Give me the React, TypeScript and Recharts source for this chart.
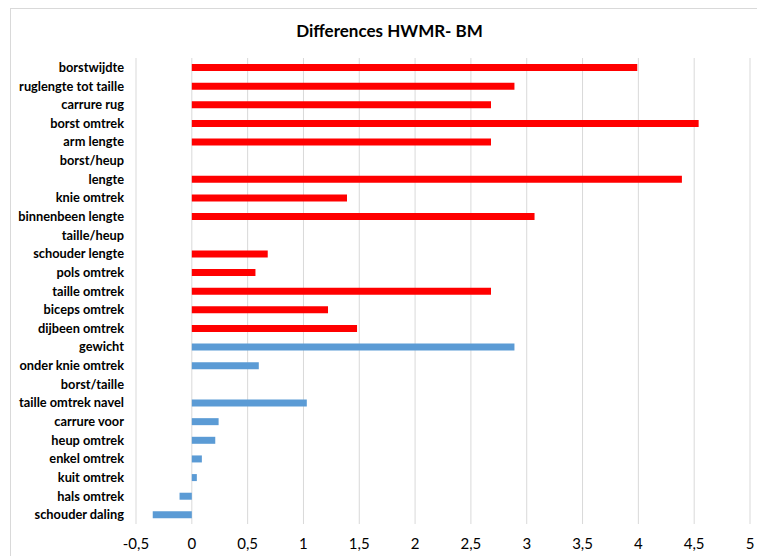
import { BarChart, Bar, XAxis, YAxis, CartesianGrid } from 'recharts';

const categories = [
  'borstwijdte',
  'ruglengte tot taille',
  'carrure rug',
  'borst omtrek',
  'arm lengte',
  'borst/heup',
  'lengte',
  'knie omtrek',
  'binnenbeen lengte',
  'taille/heup',
  'schouder lengte',
  'pols omtrek',
  'taille omtrek',
  'biceps omtrek',
  'dijbeen omtrek',
  'gewicht',
  'onder knie omtrek',
  'borst/taille',
  'taille omtrek navel',
  'carrure voor',
  'heup omtrek',
  'enkel omtrek',
  'kuit omtrek',
  'hals omtrek',
  'schouder daling',
];

// red group (top part of the chart)
const redValues = [
  3.99, 2.89, 2.68, 4.54, 2.68, null, 4.39, 1.39, 3.07, null, 0.68, 0.57, 2.68, 1.22, 1.48,
  null, null, null, null, null, null, null, null, null, null,
];

// blue group (bottom part)
const blueValues = [
  null, null, null, null, null, null, null, null, null, null, null, null, null, null, null,
  2.89, 0.6, null, 1.03, 0.24, 0.21, 0.09, 0.045, -0.11, -0.35,
];

const xTicks = [-0.5, 0, 0.5, 1, 1.5, 2, 2.5, 3, 3.5, 4, 4.5, 5];

const data = categories.map((name, i) => ({
  name,
  red: redValues[i],
  blue: blueValues[i],
}));

const FONT = 'Lato, "Open Sans", sans-serif';

export default function App() {
  return (
    <div
      style={{
        position: 'absolute',
        left: 0,
        top: 0,
        width: 757,
        height: 556,
        overflow: 'hidden',
        background: '#fff',
        fontFamily: FONT,
      }}
    >
      <div
        style={{
          position: 'absolute',
          left: 10,
          top: 8,
          width: 800,
          height: 600,
          border: '1px solid #d9d9d9',
        }}
      />
      <div
        style={{
          position: 'absolute',
          left: 0,
          top: 20,
          width: 779,
          textAlign: 'center',
          fontSize: 17,
          fontWeight: 700,
          color: '#000',
        }}
      >
        Differences HWMR- BM
      </div>
      <div style={{ position: 'absolute', left: 0, top: 0 }}>
        <BarChart
          width={757}
          height={556}
          data={data}
          layout="vertical"
          margin={{ top: 58, right: 7, bottom: 0, left: 0 }}
          barSize={7}
        >
          <CartesianGrid horizontal={false} stroke="#d9d9d9" />
          <XAxis
            type="number"
            domain={[-0.5, 5]}
            ticks={xTicks}
            interval={0}
            axisLine={false}
            tickLine={false}
            height={32}
            tickMargin={8}
            tick={{ fill: '#000', fontSize: 15, fontFamily: FONT }}
            tickFormatter={(v: number) => String(v).replace('.', ',')}
          />
          <YAxis
            type="category"
            dataKey="name"
            width={136}
            interval={0}
            axisLine={false}
            tickLine={false}
            tickSize={0}
            tickMargin={12}
            tick={{ fill: '#000', fontSize: 12.8, fontWeight: 700, fontFamily: FONT }}
          />
          <Bar dataKey="red" stackId="a" fill="#ff0000" isAnimationActive={false} />
          <Bar dataKey="blue" stackId="a" fill="#5b9bd5" isAnimationActive={false} />
        </BarChart>
      </div>
    </div>
  );
}
